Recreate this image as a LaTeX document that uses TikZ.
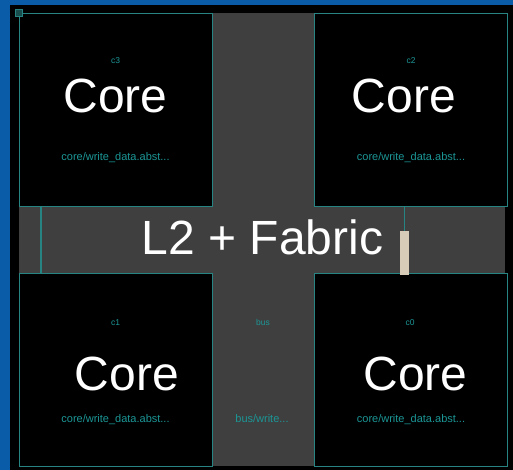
\documentclass[tikz,border=0pt]{standalone}
\usepackage{fontspec}
\setmainfont{Liberation Sans}
\definecolor{bgblue}{RGB}{10,92,168}
\definecolor{fabric}{RGB}{63,63,63}
\definecolor{tealline}{RGB}{40,132,130}
\definecolor{tealtext}{RGB}{28,150,150}
\definecolor{beige}{RGB}{214,204,184}
\tikzset{
  corebox/.style={draw=tealline, line width=1.2pt, fill=black, minimum width=193pt, minimum height=193pt, anchor=north west, inner sep=0pt},
  bigtext/.style={text=white, font=\fontsize{48}{48}\selectfont, anchor=base, inner sep=0pt},
  smalltext/.style={text=tealtext, font=\fontsize{11}{11}\selectfont, anchor=base, inner sep=0pt},
  tinytext/.style={text=tealtext, font=\fontsize{8.5}{8.5}\selectfont, anchor=base, inner sep=0pt},
  wire/.style={draw=tealline, line width=1.2pt}
}
\begin{document}
\begin{tikzpicture}[x=1pt,y=-1pt]
\useasboundingbox (0,0) rectangle (513,470);
\fill[black] (0,0) rectangle (513,470);
\fill[bgblue] (0,0) rectangle (10,470);
\fill[bgblue] (0,0) rectangle (513,5);
% fabric
\fill[fabric] (212,13) rectangle (314,466);
\fill[fabric] (19,206) rectangle (505,273);
% cores
\node[corebox] (c3) at (19,13) {};
\node[corebox] (c2) at (314,13) {};
\node[corebox] (c1) at (19,273) {};
\node[corebox] (c0) at (314,273) {};
% corner icon
\node[draw=tealline, fill=tealline!60!black, minimum size=7pt, inner sep=0pt, line width=0.8pt] (icon) at (19,13) {};
% wires
\coordinate (la) at (41,206);
\coordinate (lb) at (41,273);
\draw[wire] (la) -- (lb);
\node[fill=beige, minimum width=9pt, minimum height=44pt, inner sep=0pt, anchor=north] (tap) at (404.5,231) {};
\coordinate (ta) at (404.5,206);
\draw[wire] (ta) -- (tap.north);
% texts
\node[tinytext] (c3n) at (115.5,64) {c3};
\node[bigtext] (c3t) at (115.5,113) {Core};
\node[smalltext] (c3s) at (115.5,161) {core/write\_data.abst...};
\node[tinytext] (c2n) at (411,64) {c2};
\node[bigtext] (c2t) at (404,113) {Core};
\node[smalltext] (c2s) at (411,161) {core/write\_data.abst...};
\node[tinytext] (c1n) at (115.5,325) {c1};
\node[bigtext] (c1t) at (127,390) {Core};
\node[smalltext] (c1s) at (115.5,422) {core/write\_data.abst...};
\node[tinytext] (c0n) at (410,325) {c0};
\node[bigtext] (c0t) at (415.5,390) {Core};
\node[smalltext] (c0s) at (411,422) {core/write\_data.abst...};
\node[tinytext] (busn) at (263,325) {bus};
\node[smalltext] (buss) at (262,422) {bus/write...};
\node[bigtext] (l2) at (262.5,254) {L2 + Fabric};
\end{tikzpicture}
\end{document}
